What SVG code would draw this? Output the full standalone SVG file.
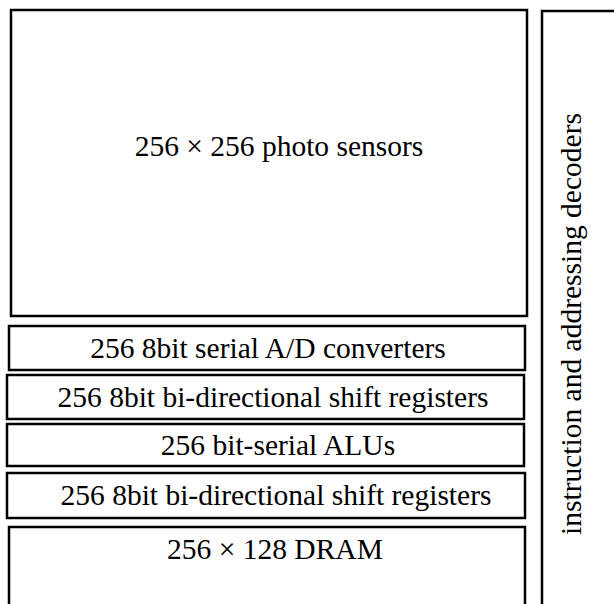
<svg xmlns="http://www.w3.org/2000/svg" width="614" height="604" viewBox="0 0 614 604">
<style>
.box{fill:#fff;stroke:#000;stroke-width:2.5}
.t{font-family:"Liberation Serif","Times New Roman",serif;font-size:29.5px;fill:#000;text-anchor:middle}
</style>
<rect width="614" height="604" fill="#fff"/>
<g id="photo-sensors"><rect class="box" x="11" y="10" width="516" height="306"/><text class="t" x="279" y="156">256 × 256 photo sensors</text></g>
<g id="ad-converters"><rect class="box" x="9" y="326" width="516" height="44"/><text class="t" x="268" y="358">256 8bit serial A/D converters</text></g>
<g id="shift-registers-1"><rect class="box" x="7" y="375" width="517" height="44"/><text class="t" x="273" y="407">256 8bit bi-directional shift registers</text></g>
<g id="alus"><rect class="box" x="7" y="424" width="517" height="42"/><text class="t" x="278" y="455">256 bit-serial ALUs</text></g>
<g id="shift-registers-2"><rect class="box" x="7" y="473" width="518" height="45"/><text class="t" x="276" y="505">256 8bit bi-directional shift registers</text></g>
<g id="dram"><rect class="box" x="9" y="527" width="516" height="90"/><text class="t" x="275" y="559">256 × 128 DRAM</text></g>
<g id="decoders"><rect class="box" x="542" y="11" width="90" height="610"/><text class="t" transform="translate(581,324) rotate(-90)" x="0" y="0">instruction and addressing decoders</text></g>
<g id="connectors"></g>
</svg>
